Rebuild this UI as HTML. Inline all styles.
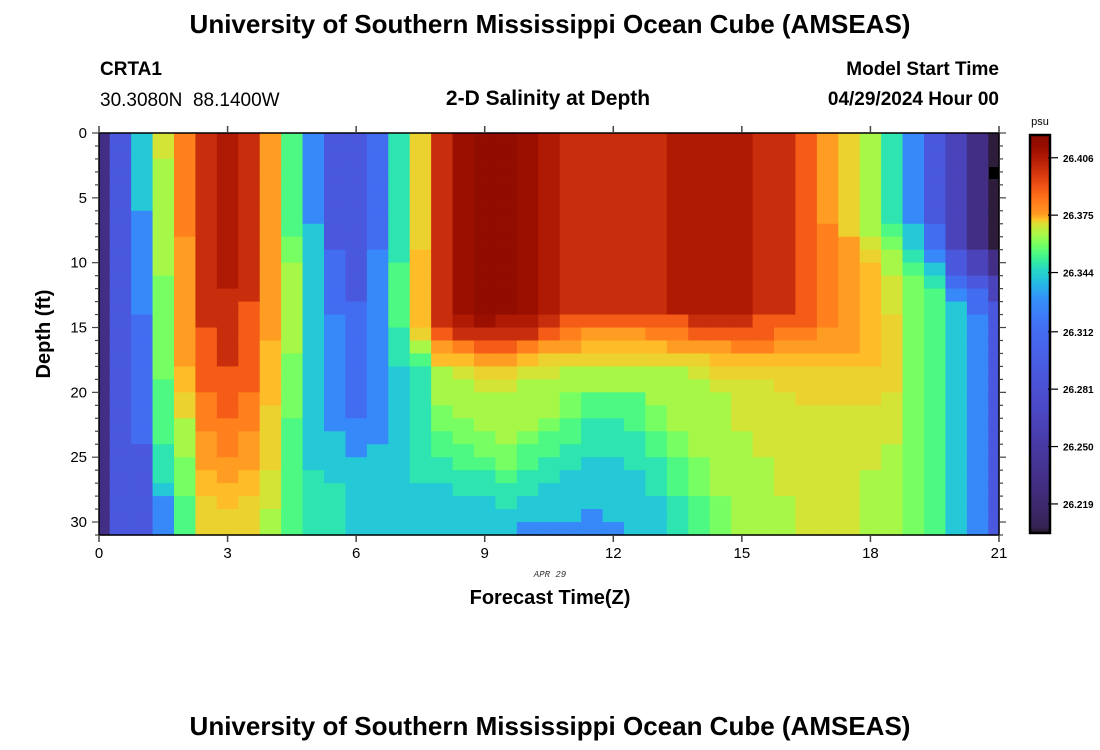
<!DOCTYPE html>
<html><head><meta charset="utf-8">
<style>
body{margin:0;background:#fff;width:1100px;height:750px;overflow:hidden}
svg{display:block;font-family:"Liberation Sans",Arial,sans-serif}
</style></head>
<body>
<svg id="chart" width="1100" height="750" viewBox="0 0 1100 750" xmlns="http://www.w3.org/2000/svg">
<rect width="1100" height="750" fill="#fff"/>
<text x="550" y="33" text-anchor="middle" font-size="26" font-weight="bold">University of Southern Mississippi Ocean Cube (AMSEAS)</text>
<text x="100" y="75" font-size="19" font-weight="bold">CRTA1</text>
<text x="100" y="106" font-size="19" xml:space="preserve">30.3080N  88.1400W</text>
<text x="548" y="105" text-anchor="middle" font-size="21" font-weight="bold">2-D Salinity at Depth</text>
<text x="999" y="75" text-anchor="end" font-size="19" font-weight="bold">Model Start Time</text>
<text x="999" y="105" text-anchor="end" font-size="19" font-weight="bold">04/29/2024 Hour 00</text>
<g id="cells"></g>
<g id="axes"></g>
<text x="50" y="334" text-anchor="middle" font-size="20" font-weight="bold" transform="rotate(-90 50 334)">Depth (ft)</text>
<text x="550" y="577" text-anchor="middle" font-size="9" font-style="italic" font-family="Liberation Mono,monospace" fill="#333">APR 29</text>
<text x="550" y="604" text-anchor="middle" font-size="20" font-weight="bold">Forecast Time(Z)</text>
<g id="cbar"></g>
<text x="1040" y="125" text-anchor="middle" font-size="11">psu</text>
<text x="550" y="735" text-anchor="middle" font-size="26" font-weight="bold">University of Southern Mississippi Ocean Cube (AMSEAS)</text>
</svg>
<script>
// hours of each column
const hours = [];
for (let i = 0; i <= 42; i++) hours.push(i * 0.5);
const depths = [];
for (let j = 0; j < 31; j++) depths.push(j);
// salinity level codes per column (depth 0..30); each letter is a salinity class
const columns = [
"bbbbbbbbbbbbbbbbbbbbbbbbbbbbbbb",
"ddddddddddddddddddddddddddddddd",
"ggggggffffffffeeeeeeeeeeddddddd",
"llkkkkkkkkkjjjjjjjjiiiiihhhgfff",
"ppppppppoooooooooonnmmkkkjjjiii",
"rrrrrrrrrrrrrrrqqqqqpppooonnmmm",
"ssssssssssssrrrrrrqqqqpppoonnmm",
"rrrrrrrrrrrrrqqqqqqqpppooonnmmm",
"oooooooooooooooonnnnnmmmmmlllkk",
"iiiiiiiijjkkkkkkkjjjjjiiiiiiiii",
"fffffffggggggggggggggggggghhhhh",
"dddddddddeeeeefffffffffgggghhhh",
"dddddddddddddeeeeeeeeefffgggggg",
"eeeeeeeeefffffffffffffffggggggg",
"hhhhhhhhhhiiiiihhhggggggggggggg",
"mmmmmmmmmnnnnnnmkihhhhhhhhhgggg",
"rrrrrrrrrrrrrrrqonkkkjjiihhgggg",
"ttttttttttttttsrpnlkkkjjiihhggg",
"uuuuuuuuuuuuuutrqomlkkkjjihhggg",
"uuuuuuuuuuuuuusrqomlkkkkjjihhgg",
"ttttttttttttttsrpnlkkkkjiihhggf",
"ssssssssssssssrqomlkkkjiihhgggf",
"rrrrrrrrrrrrrrqpomkkjjiihhggggf",
"rrrrrrrrrrrrrrqonmkkiihhhggggff",
"rrrrrrrrrrrrrrqonmkkiihhhgggggf",
"rrrrrrrrrrrrrrqonmkkiiihhhggggg",
"rrrrrrrrrrrrrrqpnmkkkjjiihhhggg",
"ssssssssssssssqpomkkkkkjjiiihhh",
"ssssssssssssssrqomlkkkkkkjjjiii",
"ssssssssssssssrqonmlkkkkkkkkjjj",
"ssssssssssssssrqpnmllllkkkkkkkk",
"rrrrrrrrrrrrrrqqpnmllllllkkkkkk",
"rrrrrrrrrrrrrrqponmmllllllllkkk",
"qqqqqqqqqqqqqqqponmmmllllllllll",
"oooooooppppppppoonmmmllllllllll",
"mmmmmmmmooooooooonmmmllllllllll",
"kkkkkkkklmnnnnnnnnmmmlllllkkkkk",
"hhhhhhhijkklllmmmmmmllllkkkkkkk",
"fffffffgghijjjjjjjjjjjjjjjjjjjj",
"dddddddeefghiiiiiiiiiiiiiiiiiii",
"cccccccccddefgggggggggggggggggg",
"bbbbbbbbbccdeefffffffffffffffff",
"aaaaaaaaabbccdddddddddddddddddd"
];
// salinity (psu) of each class letter a..u
const classValues = [26.205, 26.2316, 26.2637, 26.290, 26.314, 26.3268, 26.342, 26.3485, 26.3544, 26.3595, 26.3648, 26.370, 26.3717, 26.3734, 26.3755, 26.3815, 26.389, 26.4006, 26.4066, 26.4116, 26.4185];
const cbTicks = [26.219, 26.250, 26.281, 26.312, 26.344, 26.375, 26.406];
const xTicks = [0, 3, 6, 9, 12, 15, 18, 21];
const yTicks = [0, 5, 10, 15, 20, 25, 30];
// colormap stops: salinity -> turbo position
const cmapV = [26.203, 26.207, 26.250, 26.282, 26.314, 26.330, 26.346, 26.3595, 26.370, 26.3755, 26.389, 26.406, 26.4185];
const cmapT = [0.0, 0.02, 0.055, 0.09, 0.13, 0.18, 0.30, 0.46, 0.58, 0.71, 0.80, 0.91, 1.0];

const NS = "http://www.w3.org/2000/svg";
const X0 = 99, X1 = 999, Y0 = 133, Y1 = 535;
const xS = h => X0 + h / 21 * (X1 - X0);
const yS = d => Y0 + d / 31 * (Y1 - Y0);
function turbo(t) {
  t = Math.max(0, Math.min(1, t));
  const r = 0.13572138 + t*(4.61539260 + t*(-42.66032258 + t*(132.13108234 + t*(-152.94239396 + t*59.28637943))));
  const g = 0.09140261 + t*(2.19418839 + t*(4.84296658 + t*(-14.18503333 + t*(4.27729857 + t*2.82956604))));
  const b = 0.10667330 + t*(12.64194608 + t*(-60.58204836 + t*(110.36276771 + t*(-89.90310912 + t*27.34824973))));
  const c = v => Math.round(Math.max(0, Math.min(1, v)) * 255);
  return `rgb(${c(r)},${c(g)},${c(b)})`;
}
function tOf(v) {
  if (v <= cmapV[0]) return 0;
  for (let k = 1; k < cmapV.length; k++) {
    if (v <= cmapV[k]) return cmapT[k-1] + (v - cmapV[k-1]) / (cmapV[k] - cmapV[k-1]) * (cmapT[k] - cmapT[k-1]);
  }
  return 1;
}
const colorOf = v => turbo(tOf(v));
function mk(tag, attrs, parent) {
  const e = document.createElementNS(NS, tag);
  for (const k in attrs) e.setAttribute(k, attrs[k]);
  parent.appendChild(e);
  return e;
}
const values = columns.map(s => s.split("").map(ch => classValues[ch.charCodeAt(0) - 97]));

const cells = document.getElementById("cells");
hours.forEach((h, i) => {
  const xa = Math.max(X0, xS(h - 0.25)), xb = Math.min(X1, xS(h + 0.25));
  depths.forEach((d, j) => {
    const ya = yS(d), yb = yS(d + 1);
    const r = mk("rect", {x: xa.toFixed(2), y: ya.toFixed(2), width: (xb - xa + 0.6).toFixed(2), height: (yb - ya + 0.6).toFixed(2), fill: colorOf(values[i][j])}, cells);
    
    
  });
});
const mkr = mk("rect", {x: 989, y: 167, width: 10, height: 12, fill: "#000"}, cells);



const axes = document.getElementById("axes");
mk("rect", {x: X0, y: Y0, width: X1 - X0, height: Y1 - Y0, fill: "none", stroke: "#000", "stroke-width": 1.5}, axes);
xTicks.forEach(h => {
  const x = xS(h);
  mk("line", {x1: x, x2: x, y1: Y0, y2: Y0 - 7, stroke: "#444", "stroke-width": 1.5}, axes);
  mk("line", {x1: x, x2: x, y1: Y1, y2: Y1 + 7, stroke: "#444", "stroke-width": 1.5}, axes);
  const t = mk("text", {x: x, y: Y1 + 23, "text-anchor": "middle", "font-size": 15}, axes);
  t.textContent = h;
  
  
});
for (let d = 0; d <= 31; d++) {
  const y = yS(d);
  const major = yTicks.includes(d);
  mk("line", {x1: X0, x2: X0 - (major ? 7 : 4), y1: y, y2: y, stroke: "#444", "stroke-width": 1.2}, axes);
  mk("line", {x1: X1, x2: X1 + (major ? 7 : 4), y1: y, y2: y, stroke: "#444", "stroke-width": 1.2}, axes);
}
yTicks.forEach(d => {
  const t = mk("text", {x: X0 - 12, y: yS(d) + 5, "text-anchor": "end", "font-size": 15}, axes);
  t.textContent = d;
  
  
});

const cb = document.getElementById("cbar");
const CX = 1030, CW = 20, CY0 = 135, CY1 = 533;
const vTop = 26.4183, vBot = 26.2033;
const cyS = v => CY1 - (v - vBot) / (vTop - vBot) * (CY1 - CY0);
for (let k = 0; k < 200; k++) {
  const v = vBot + (k + 0.5) / 200 * (vTop - vBot);
  const ya = CY1 - (k + 1) / 200 * (CY1 - CY0);
  mk("rect", {x: CX, y: ya.toFixed(2), width: CW, height: ((CY1 - CY0) / 200 + 0.5).toFixed(2), fill: colorOf(v)}, cb);
}
mk("rect", {x: CX, y: CY0, width: CW, height: CY1 - CY0, fill: "none", stroke: "#000", "stroke-width": 2.5}, cb);
cbTicks.forEach(v => {
  const y = cyS(v);
  mk("line", {x1: CX + CW - 2, x2: CX + CW + 8, y1: y, y2: y, stroke: "#000", "stroke-width": 1.2}, cb);
  const t = mk("text", {x: CX + CW + 13, y: y + 4, "text-anchor": "start", "font-size": 10, "font-weight": "bold"}, cb);
  t.textContent = v.toFixed(3);
  
  
});
</script>
</body></html>
